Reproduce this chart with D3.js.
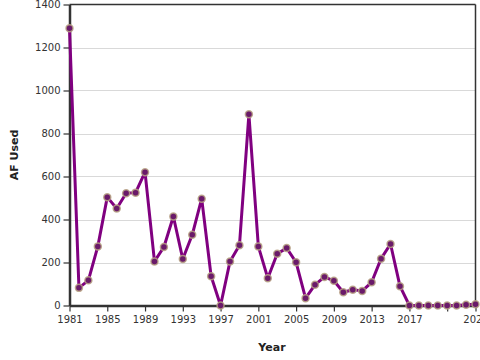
<!DOCTYPE html>
<html><head><meta charset="utf-8">
<script src="https://cdn.jsdelivr.net/npm/d3@7"></script>
<style>
body{margin:0;background:#fff;}
svg{display:block;font-family:"DejaVu Sans",sans-serif;}
</style></head>
<body><svg id="c" width="480" height="360"></svg>
<script>
const years = d3.range(1981, 2025);
const afUsed = [1290, 82, 117, 275, 504, 451, 522, 525, 620, 205,
  272, 414, 216, 329, 497, 136, 0, 205, 280, 889,
  275, 127, 241, 267, 201, 34, 96, 133, 115, 62,
  73, 68, 108, 218, 286, 90, 0, 0, 0, 0,
  0, 0, 3, 6];
const yTicks = [0, 200, 400, 600, 800, 1000, 1200, 1400];
const xTicks = [1981, 1985, 1989, 1993, 1997, 2001, 2005, 2009, 2013, 2017, 2021, 2024];
const xLabelHidden = [2021];

const data = years.map((y, i) => ({year: y, v: afUsed[i]}));
const svg = d3.select("#c");
const L = 69.5, R = 475.5, T = 4.5, B = 305.5;
const x = d3.scaleLinear().domain([1981, 2024]).range([L, R]);
const y = d3.scaleLinear().domain([0, 1400]).range([B, T]);

// grid
svg.append("g").selectAll("line").data(yTicks.filter(t => t > 0 && t < 1400)).join("line")
  .attr("x1", L).attr("x2", R).attr("y1", d => Math.round(y(d)) + 0.5).attr("y2", d => Math.round(y(d)) + 0.5)
  .attr("stroke", "#d9d9d9").attr("stroke-width", 1);
// top & right border
svg.append("line").attr("x1", L).attr("x2", R).attr("y1", T).attr("y2", T).attr("stroke", "#333").attr("stroke-width", 1.5);
svg.append("line").attr("x1", R).attr("x2", R).attr("y1", T).attr("y2", B).attr("stroke", "#333").attr("stroke-width", 1.5);

const yAxis = svg.append("g").attr("transform", `translate(${L},0)`)
  .call(d3.axisLeft(y).tickValues(yTicks).tickFormat(d3.format("d")).tickSize(6).tickPadding(3).tickSizeOuter(0));
const xAxis = svg.append("g").attr("transform", `translate(0,${B})`)
  .call(d3.axisBottom(x).tickValues(xTicks).tickFormat(d => xLabelHidden.includes(d) ? "" : String(d)).tickSize(6).tickPadding(4).tickSizeOuter(0));
[yAxis, xAxis].forEach(a => {
  a.selectAll("path.domain").attr("stroke", "#333").attr("stroke-width", 2.5);
  a.selectAll(".tick line").attr("stroke", "#333").attr("stroke-width", 1.2);
  a.selectAll("text").attr("fill", "#333").style("font-size", "10px").style("font-family", "DejaVu Sans, sans-serif");
});

svg.append("path").datum(data)
  .attr("fill", "none").attr("stroke", "#800080").attr("stroke-width", 3).attr("stroke-linejoin", "round")
  .attr("d", d3.line().x(d => x(d.year)).y(d => y(d.v)));
svg.append("g").selectAll("circle").data(data).join("circle")
  .attr("cx", d => x(d.year)).attr("cy", d => y(d.v)).attr("r", 3.5)
  .attr("fill", "#6a1a6a").attr("stroke", "#b7a284").attr("stroke-width", 1.5).attr("stroke-opacity", 0.85);

svg.append("text").attr("transform", `translate(17.5,155) rotate(-90)`).attr("text-anchor", "middle")
  .style("font-size", "11px").style("font-weight", "bold").attr("fill", "#222").text("AF Used");
svg.append("text").attr("x", 272).attr("y", 351).attr("text-anchor", "middle")
  .style("font-size", "11px").style("font-weight", "bold").attr("fill", "#222").text("Year");
</script></body></html>
